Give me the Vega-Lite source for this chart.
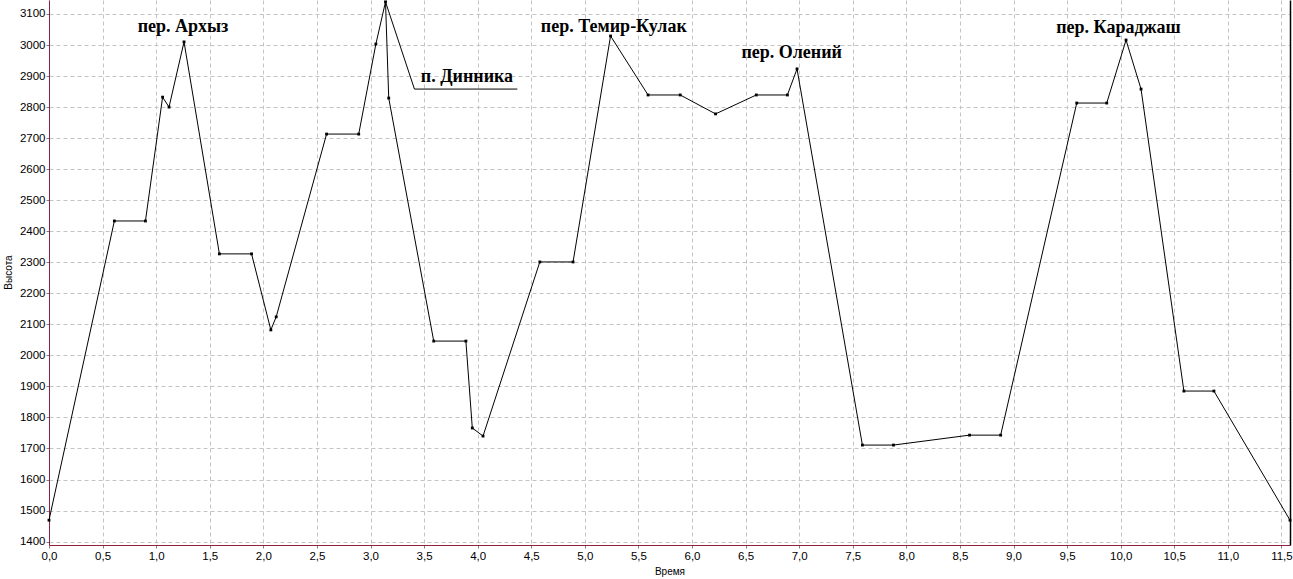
{
  "$schema": "https://vega.github.io/schema/vega-lite/v6.json",
  "width": 1241,
  "height": 545,
  "autosize": {"type": "none"},
  "padding": {"left": 49, "top": 0, "right": 3, "bottom": 34},
  "background": "white",
  "config": {
    "view": {"stroke": null},
    "axis": {
      "labelFont": "Liberation Sans",
      "titleFont": "Liberation Sans",
      "labelColor": "#000000",
      "titleColor": "#000000",
      "titleFontWeight": "normal"
    }
  },
  "datasets": {
    "profile": [
      {"t": 0.0, "h": 1469},
      {"t": 0.61, "h": 2433},
      {"t": 0.90, "h": 2433},
      {"t": 1.06, "h": 2832},
      {"t": 1.12, "h": 2800},
      {"t": 1.26, "h": 3010},
      {"t": 1.59, "h": 2327},
      {"t": 1.89, "h": 2327},
      {"t": 2.07, "h": 2082},
      {"t": 2.12, "h": 2124},
      {"t": 2.59, "h": 2713},
      {"t": 2.89, "h": 2713},
      {"t": 3.05, "h": 3003},
      {"t": 3.14, "h": 3139},
      {"t": 3.17, "h": 2829},
      {"t": 3.59, "h": 2046},
      {"t": 3.89, "h": 2046},
      {"t": 3.95, "h": 1766},
      {"t": 4.05, "h": 1740},
      {"t": 4.58, "h": 2301},
      {"t": 4.89, "h": 2301},
      {"t": 5.24, "h": 3029},
      {"t": 5.59, "h": 2839},
      {"t": 5.89, "h": 2839},
      {"t": 6.22, "h": 2778},
      {"t": 6.60, "h": 2839},
      {"t": 6.89, "h": 2839},
      {"t": 6.98, "h": 2923},
      {"t": 7.59, "h": 1711},
      {"t": 7.88, "h": 1711},
      {"t": 8.59, "h": 1743},
      {"t": 8.88, "h": 1743},
      {"t": 9.59, "h": 2813},
      {"t": 9.87, "h": 2813},
      {"t": 10.05, "h": 3016},
      {"t": 10.19, "h": 2858},
      {"t": 10.59, "h": 1885},
      {"t": 10.87, "h": 1885},
      {"t": 11.58, "h": 1469}
    ],
    "leader": [
      {"t": 3.14, "h": 3139, "k": 0},
      {"t": 3.41, "h": 2858, "k": 1},
      {"t": 4.37, "h": 2858, "k": 2}
    ],
    "labels": [
      {"t": 1.25, "h": 3042, "name": "пер. Архыз"},
      {"t": 3.90, "h": 2881, "name": "п. Динника"},
      {"t": 5.27, "h": 3042, "name": "пер. Темир-Кулак"},
      {"t": 6.93, "h": 2958, "name": "пер. Олений"},
      {"t": 9.98, "h": 3039, "name": "пер. Караджаш"}
    ]
  },
  "layer": [
    {
      "data": {"name": "profile"},
      "mark": {"type": "line", "color": "#000000", "strokeWidth": 1, "clip": true},
      "encoding": {
        "x": {
          "field": "t", "type": "quantitative",
          "scale": {"domain": [0, 11.58], "nice": false, "zero": false},
          "axis": {
            "values": [0, 0.5, 1, 1.5, 2, 2.5, 3, 3.5, 4, 4.5, 5, 5.5, 6, 6.5, 7, 7.5, 8, 8.5, 9, 9.5, 10, 10.5, 11, 11.5],
            "labelExpr": "replace(format(datum.value, '.1f'), '.', ',')",
            "title": "Время",
            "titleFontSize": 10,
            "titleX": 620.5,
            "titleY": 26,
            "titleBaseline": "middle",
            "labelFontSize": 11.5,
            "labelPadding": 2,
            "labelOverlap": false,
            "labelFlush": false,
            "tickSize": 3,
            "tickColor": "#808080",
            "domainColor": "#8e2040",
            "domainWidth": 1,
            "grid": true,
            "gridColor": "#c4c4c4",
            "gridDash": [4, 3],
            "gridWidth": 1
          }
        },
        "y": {
          "field": "h", "type": "quantitative",
          "scale": {"domain": [1389, 3145], "nice": false, "zero": false},
          "axis": {
            "values": [1400, 1500, 1600, 1700, 1800, 1900, 2000, 2100, 2200, 2300, 2400, 2500, 2600, 2700, 2800, 2900, 3000, 3100],
            "format": "d",
            "title": "Высота",
            "titleFontSize": 10,
            "titleAngle": -90,
            "titleX": -41,
            "titleY": 272,
            "titleAlign": "center",
            "titleBaseline": "middle",
            "labelFontSize": 11.5,
            "labelPadding": 1,
            "labelOverlap": false,
            "labelFlush": false,
            "tickSize": 3,
            "tickColor": "#808080",
            "domainColor": "#8e2040",
            "domainWidth": 1,
            "grid": true,
            "gridColor": "#c4c4c4",
            "gridDash": [4, 3],
            "gridWidth": 1
          }
        }
      }
    },
    {
      "data": {"name": "profile"},
      "mark": {"type": "point", "shape": "square", "filled": true, "size": 8, "color": "#000000", "opacity": 1},
      "encoding": {
        "x": {"field": "t", "type": "quantitative"},
        "y": {
          "field": "h", "type": "quantitative",
          "axis": {"orient": "right", "labels": false, "ticks": false, "grid": false, "title": null, "domainColor": "#000000", "domainWidth": 1.5}
        }
      }
    },
    {
      "data": {"name": "leader"},
      "mark": {"type": "line", "color": "#000000", "strokeWidth": 1},
      "encoding": {
        "x": {"field": "t", "type": "quantitative"},
        "y": {"field": "h", "type": "quantitative", "axis": null},
        "order": {"field": "k"}
      }
    },
    {
      "data": {"name": "labels"},
      "mark": {"type": "text", "font": "Liberation Serif", "fontWeight": "bold", "fontSize": 18, "align": "center", "baseline": "alphabetic", "color": "#000000"},
      "encoding": {
        "x": {"field": "t", "type": "quantitative"},
        "y": {"field": "h", "type": "quantitative", "axis": null},
        "text": {"field": "name"}
      }
    }
  ],
  "resolve": {"axis": {"y": "independent"}}
}
